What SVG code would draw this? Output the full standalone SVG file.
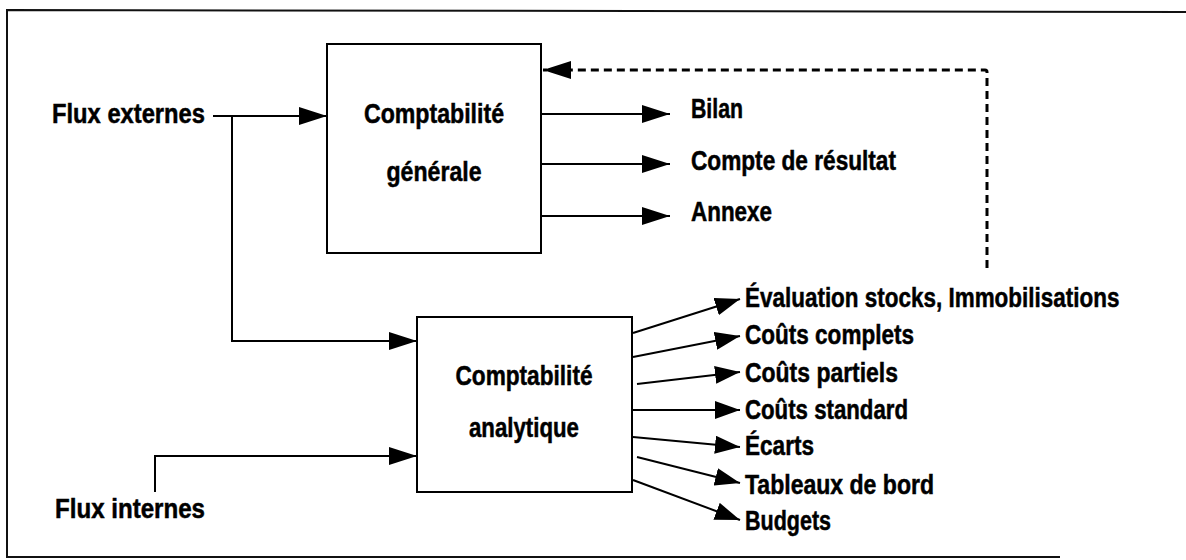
<svg xmlns="http://www.w3.org/2000/svg" width="1186" height="560" viewBox="0 0 1186 560">
<style>
  .t { font-family: "Liberation Sans", Arial, sans-serif; font-weight: bold; font-size: 27px; fill: #000; stroke: #000; stroke-width: 0.5; }
  .box { fill: #fff; stroke: #000; stroke-width: 2; }
  .ln { fill: none; stroke: #000; stroke-width: 2; }
  .dash { fill: none; stroke: #000; stroke-width: 3; stroke-dasharray: 8 5; }
  .frame { fill: none; stroke: #111; stroke-width: 2; }
</style>
<defs>
  <marker id="ah" markerUnits="userSpaceOnUse" markerWidth="28" markerHeight="18" refX="28" refY="9" orient="auto" viewBox="0 0 28 18">
    <path d="M0,0 L28,9 L0,18 Z" fill="#000"/>
  </marker>
  <marker id="ahs" markerUnits="userSpaceOnUse" markerWidth="25" markerHeight="18" refX="25" refY="9" orient="auto" viewBox="0 0 25 18">
    <path d="M0,0 L25,9 L0,18 Z" fill="#000"/>
  </marker>
</defs>
<rect width="1186" height="560" fill="#fff"/>
<g id="frame">
  <path class="frame" d="M1186,12 L7,10 L7,557 L1060,557"/>
</g>
<g id="connectors">
  <path class="ln" d="M213,116 L327,116" marker-end="url(#ah)"/>
  <path class="ln" d="M232,116 L232,341 L417,341" marker-end="url(#ah)"/>
  <path class="ln" d="M155,492 L155,456 L417,456" marker-end="url(#ah)"/>
  <path class="ln" d="M541,114 L670,114" marker-end="url(#ah)"/>
  <path class="ln" d="M541,164 L670,164" marker-end="url(#ah)"/>
  <path class="ln" d="M541,216 L670,216" marker-end="url(#ah)"/>
  <path class="dash" d="M987,268 L987,72 Q987,70 985,70 L543,70" marker-end="url(#ah)"/>
  <path class="ln" d="M633,333 L740,299" marker-end="url(#ahs)"/>
  <path class="ln" d="M633,357 L740,336" marker-end="url(#ahs)"/>
  <path class="ln" d="M637,384 L740,372" marker-end="url(#ahs)"/>
  <path class="ln" d="M633,410 L740,410" marker-end="url(#ahs)"/>
  <path class="ln" d="M633,437 L740,447" marker-end="url(#ahs)"/>
  <path class="ln" d="M637,457 L740,483" marker-end="url(#ahs)"/>
  <path class="ln" d="M633,480 L740,520" marker-end="url(#ahs)"/>
</g>
<g id="flux-externes">
  <text class="t" x="52" y="123" textLength="153" lengthAdjust="spacingAndGlyphs">Flux externes</text>
</g>
<g id="flux-internes">
  <text class="t" x="55" y="518" textLength="150" lengthAdjust="spacingAndGlyphs">Flux internes</text>
</g>
<g id="compta-generale">
  <rect class="box" x="327" y="44" width="214" height="209"/>
  <text class="t" x="434" y="123" text-anchor="middle" textLength="140" lengthAdjust="spacingAndGlyphs">Comptabilité</text>
  <text class="t" x="434" y="181" text-anchor="middle" textLength="95" lengthAdjust="spacingAndGlyphs">générale</text>
</g>
<g id="compta-analytique">
  <rect class="box" x="417" y="317" width="215" height="175"/>
  <text class="t" x="524" y="385" text-anchor="middle" textLength="137" lengthAdjust="spacingAndGlyphs">Comptabilité</text>
  <text class="t" x="524" y="437" text-anchor="middle" textLength="110" lengthAdjust="spacingAndGlyphs">analytique</text>
</g>
<g id="bilan"><text class="t" x="691" y="118" textLength="52" lengthAdjust="spacingAndGlyphs">Bilan</text></g>
<g id="compte-resultat"><text class="t" x="691" y="170" textLength="205" lengthAdjust="spacingAndGlyphs">Compte de résultat</text></g>
<g id="annexe"><text class="t" x="691" y="221" textLength="81" lengthAdjust="spacingAndGlyphs">Annexe</text></g>
<g id="evaluation"><text class="t" transform="translate(745,307) scale(0.832,1)" x="0" y="0">Évaluation stocks, Immobilisations</text></g>
<g id="couts-complets"><text class="t" x="745" y="344" textLength="169" lengthAdjust="spacingAndGlyphs">Coûts complets</text></g>
<g id="couts-partiels"><text class="t" x="745" y="382" textLength="153" lengthAdjust="spacingAndGlyphs">Coûts partiels</text></g>
<g id="couts-standard"><text class="t" x="745" y="419" textLength="163" lengthAdjust="spacingAndGlyphs">Coûts standard</text></g>
<g id="ecarts"><text class="t" x="745" y="455" textLength="69" lengthAdjust="spacingAndGlyphs">Écarts</text></g>
<g id="tableaux"><text class="t" x="745" y="494" textLength="189" lengthAdjust="spacingAndGlyphs">Tableaux de bord</text></g>
<g id="budgets"><text class="t" x="745" y="530" textLength="86" lengthAdjust="spacingAndGlyphs">Budgets</text></g>
</svg>
